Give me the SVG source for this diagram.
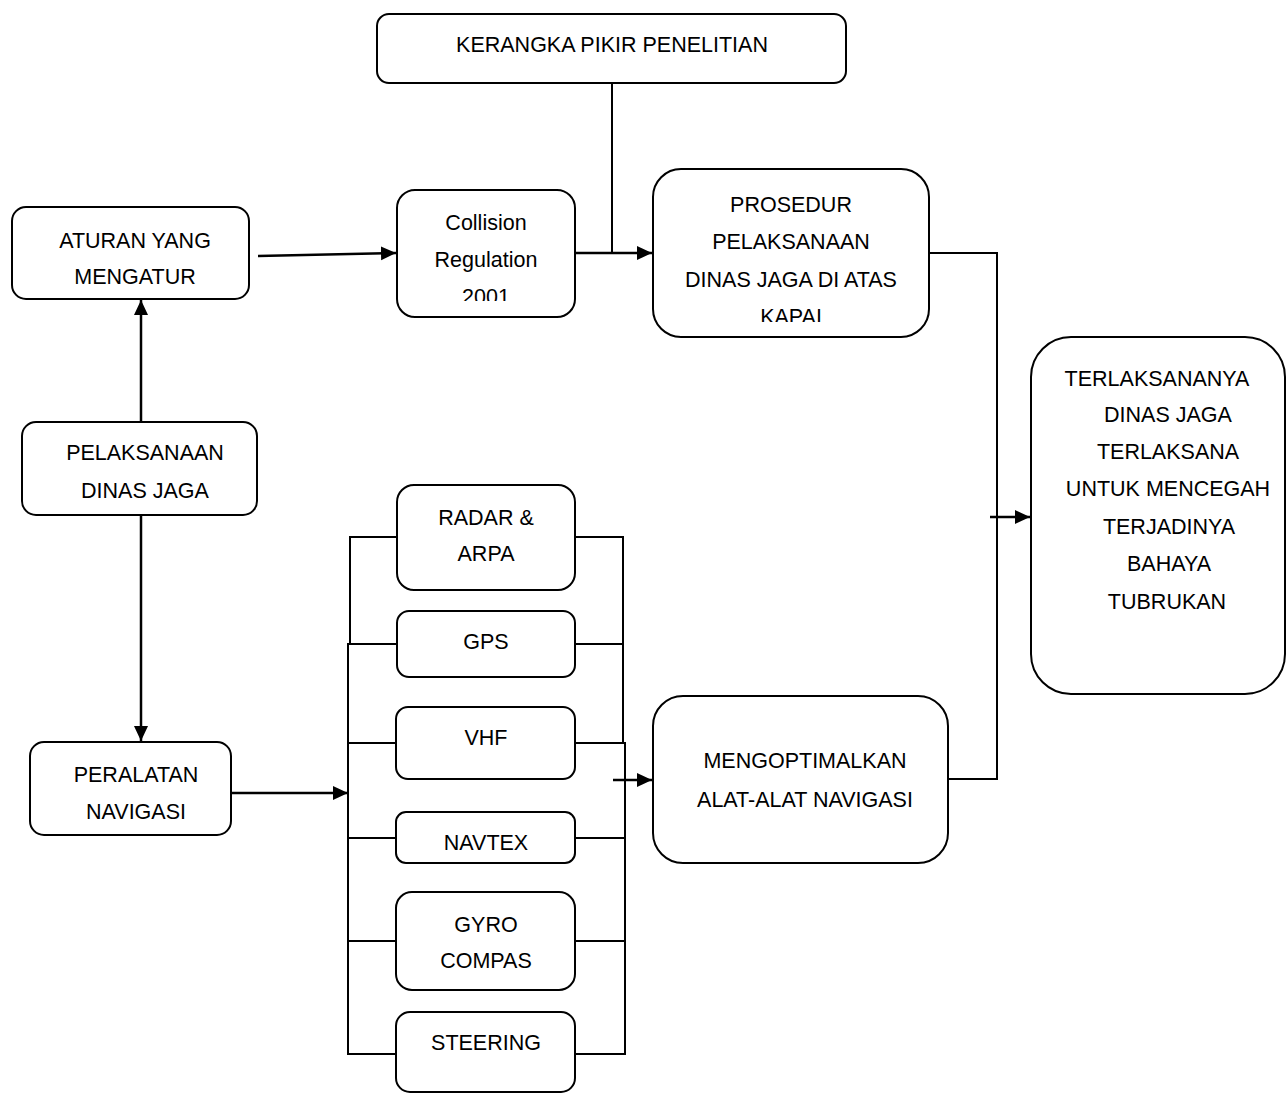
<svg xmlns="http://www.w3.org/2000/svg" width="1288" height="1094" viewBox="0 0 1288 1094">
<style>
.box{fill:#fff;stroke:#000;stroke-width:2}
.ln{fill:none;stroke:#000;stroke-width:2}
.ar{fill:none;stroke:#000;stroke-width:2.5}
text{font-family:"Liberation Sans",Arial,sans-serif;font-size:21.5px;fill:#000;text-anchor:middle}
</style>
<defs>
<marker id="ah" markerUnits="userSpaceOnUse" markerWidth="16" markerHeight="16" refX="15" refY="8" orient="auto">
<path d="M0,1 L15,8 L0,15 Z" fill="#000"/>
</marker>
<clipPath id="clipColl"><rect x="397" y="190" width="178" height="111"/></clipPath>
<clipPath id="clipPros"><rect x="653" y="169" width="276" height="153"/></clipPath>
</defs>
<rect width="1288" height="1094" fill="#fff"/>
<g id="connectors">
<line class="ln" x1="612" y1="83" x2="612" y2="253"/>
<line class="ar" x1="258" y1="256" x2="396" y2="253" marker-end="url(#ah)"/>
<line class="ar" x1="575" y1="253" x2="652" y2="253" marker-end="url(#ah)"/>
<polyline class="ln" points="929,253 997,253 997,779 948,779"/>
<line class="ar" x1="990" y1="517" x2="1030" y2="517" marker-end="url(#ah)"/>
<line class="ar" x1="141" y1="422" x2="141" y2="300" marker-end="url(#ah)"/>
<line class="ar" x1="141" y1="515" x2="141" y2="741" marker-end="url(#ah)"/>
<line class="ar" x1="231" y1="793" x2="348" y2="793" marker-end="url(#ah)"/>
<polyline class="ln" points="398,537 350,537 350,644"/>
<polyline class="ln" points="398,644 348,644 348,1054 397,1054"/>
<line class="ln" x1="348" y1="743" x2="397" y2="743"/>
<line class="ln" x1="348" y1="838" x2="397" y2="838"/>
<line class="ln" x1="348" y1="941" x2="397" y2="941"/>
<polyline class="ln" points="575,537 623,537 623,743"/>
<line class="ln" x1="575" y1="644" x2="623" y2="644"/>
<polyline class="ln" points="575,743 625,743 625,1054 576,1054"/>
<line class="ln" x1="576" y1="838" x2="625" y2="838"/>
<line class="ln" x1="576" y1="941" x2="625" y2="941"/>
<line class="ar" x1="613" y1="780" x2="652" y2="780" marker-end="url(#ah)"/>
</g>
<g id="kerangka">
<rect class="box" x="377" y="14" width="469" height="69" rx="12"/>
<text x="612" y="52">KERANGKA PIKIR PENELITIAN</text>
</g>
<g id="aturan">
<rect class="box" x="12" y="207" width="237" height="92" rx="14"/>
<text x="135" y="248">ATURAN YANG</text>
<text x="135" y="284">MENGATUR</text>
</g>
<g id="collision">
<rect class="box" x="397" y="190" width="178" height="127" rx="18"/>
<g clip-path="url(#clipColl)">
<text x="486" y="230">Collision</text>
<text x="486" y="267">Regulation</text>
<text x="486" y="304">2001</text>
</g>
</g>
<g id="prosedur">
<rect class="box" x="653" y="169" width="276" height="168" rx="28"/>
<g clip-path="url(#clipPros)">
<text x="791" y="212">PROSEDUR</text>
<text x="791" y="249">PELAKSANAAN</text>
<text x="791" y="287">DINAS JAGA DI ATAS</text>
<text x="791" y="324">KAPAI</text>
</g>
</g>
<g id="terlaksananya">
<rect class="box" x="1031" y="337" width="254" height="357" rx="40"/>
<text x="1157" y="386">TERLAKSANANYA</text>
<text x="1168" y="422">DINAS JAGA</text>
<text x="1168" y="459">TERLAKSANA</text>
<text x="1168" y="496">UNTUK MENCEGAH</text>
<text x="1169" y="534">TERJADINYA</text>
<text x="1169" y="571">BAHAYA</text>
<text x="1167" y="609">TUBRUKAN</text>
</g>
<g id="pelaksanaan">
<rect class="box" x="22" y="422" width="235" height="93" rx="14"/>
<text x="145" y="460">PELAKSANAAN</text>
<text x="145" y="498">DINAS JAGA</text>
</g>
<g id="peralatan">
<rect class="box" x="30" y="742" width="201" height="93" rx="14"/>
<text x="136" y="782">PERALATAN</text>
<text x="136" y="819">NAVIGASI</text>
</g>
<g id="radar">
<rect class="box" x="397" y="485" width="178" height="105" rx="17"/>
<text x="486" y="525">RADAR &amp;</text>
<text x="486" y="561">ARPA</text>
</g>
<g id="gps">
<rect class="box" x="397" y="611" width="178" height="66" rx="12"/>
<text x="486" y="649">GPS</text>
</g>
<g id="vhf">
<rect class="box" x="396" y="707" width="179" height="72" rx="12"/>
<text x="486" y="745">VHF</text>
</g>
<g id="navtex">
<rect class="box" x="396" y="812" width="179" height="51" rx="10"/>
<text x="486" y="850">NAVTEX</text>
</g>
<g id="gyro">
<rect class="box" x="396" y="892" width="179" height="98" rx="16"/>
<text x="486" y="932">GYRO</text>
<text x="486" y="968">COMPAS</text>
</g>
<g id="steering">
<rect class="box" x="396" y="1012" width="179" height="80" rx="14"/>
<text x="486" y="1050">STEERING</text>
</g>
<g id="mengoptimalkan">
<rect class="box" x="653" y="696" width="295" height="167" rx="30"/>
<text x="805" y="768">MENGOPTIMALKAN</text>
<text x="805" y="807">ALAT-ALAT NAVIGASI</text>
</g>
</svg>
